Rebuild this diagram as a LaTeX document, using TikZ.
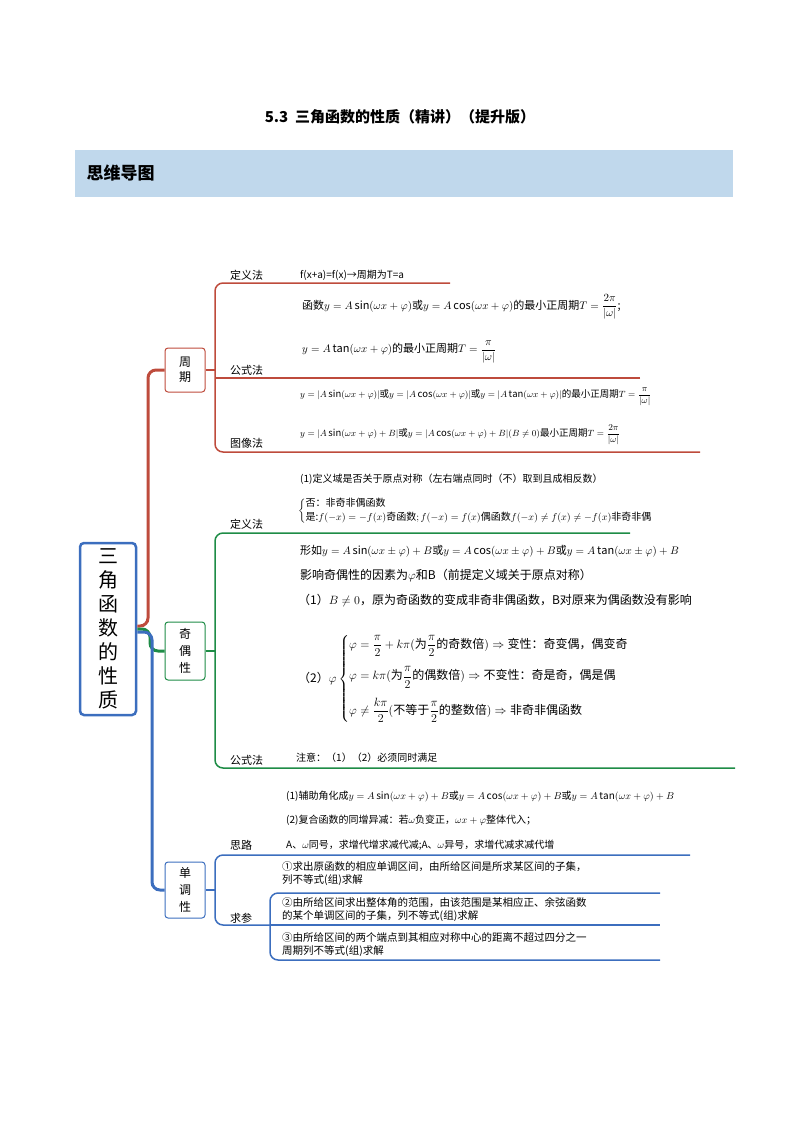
\documentclass[tikz,border=0pt]{standalone}
\usepackage{amsmath}
\usepackage{fontspec}
\setmainfont{Noto Sans CJK SC}
\definecolor{cr}{RGB}{190,75,60}
\definecolor{cg}{RGB}{30,140,70}
\definecolor{cb}{RGB}{60,110,190}
\definecolor{band}{RGB}{192,216,236}
\tikzset{
 lab/.style={anchor=west,font=\fontsize{11}{12}\selectfont,inner sep=0pt},
 txt/.style={anchor=west,font=\fontsize{10}{12}\selectfont,inner sep=0pt},
 sbox/.style={draw,rounded corners=3pt,line width=1pt,minimum width=40pt,align=center,font=\fontsize{12}{15}\selectfont},
 br/.style={line width=1.5pt,rounded corners=8pt},
}
\begin{document}
\begin{tikzpicture}[x=1pt,y=-1pt]
\useasboundingbox (0,0) rectangle (800,1132);
\node[font=\bfseries\fontsize{15}{18}\selectfont] (title) at (400,117) {5.3\ \ 三角函数的性质（精讲）（提升版）};
\fill[band] (75,150) rectangle (733,197);
\node[anchor=west,font=\bfseries\fontsize{17}{20}\selectfont] (hd) at (83,173) {思维导图};
% main box
\node[draw=cb,line width=2.5pt,rounded corners=4pt,minimum width=56pt,minimum height=172pt,align=center,font=\fontsize{20}{24}\selectfont] (main) at (108,629) {三\\角\\函\\数\\的\\性\\质};
\node[sbox,draw=cr,minimum height=44pt] (zq) at (185,370) {周\\期};
\node[sbox,draw=cg,minimum height=58pt,font=\fontsize{12}{17}\selectfont] (jo) at (185,651) {奇\\偶\\性};
\node[sbox,draw=cb,minimum height=56pt,font=\fontsize{12}{17}\selectfont] (dd) at (185,890) {单\\调\\性};
% trunk
\draw[br,cr,line width=3pt] (main.east) ++(0,-3) -- (148,626) -- (148,370) -- (zq.west);
\draw[br,cg,line width=3pt] (main.east) -- (150,629) -- (150,651) -- (jo.west);
\draw[br,cb,line width=3pt] (main.east) ++(0,3) -- (152,632) -- (152,890) -- (dd.west);
% period branch
\draw[br,cr] (450,283) -- (215,283) -- (215,452) -- (700,452);
\draw[cr,line width=1.5pt] (640,378) -- (215,378);
\draw[cr,line width=1.5pt] (zq.east) -- (215,370);
\node[lab] (l1) at (230,275) {定义法};
\node[lab] (l2) at (230,370) {公式法};
\node[lab] (l3) at (230,443) {图像法};
\node[txt] (p1) at (300,275) {f(x+a)=f(x)→周期为T=a};
\node[txt,font=\fontsize{11}{13}\selectfont] (p2) at (302,307) {函数$y=A\sin(\omega x+\varphi)$或$y=A\cos(\omega x+\varphi)$的最小正周期$T=\dfrac{2\pi}{|\omega|}$;};
\node[txt,font=\fontsize{11}{13}\selectfont] (p3) at (302,352) {$y=A\tan(\omega x+\varphi)$的最小正周期$T=\dfrac{\pi}{|\omega|}$};
\node[txt,font=\fontsize{9.5}{11}\selectfont] (p4) at (300,397) {$y=|A\sin(\omega x+\varphi)|$或$y=|A\cos(\omega x+\varphi)|$或$y=|A\tan(\omega x+\varphi)|$的最小正周期$T=\dfrac{\pi}{|\omega|}$};
\node[txt,font=\fontsize{9.5}{11}\selectfont] (p5) at (300,435) {$y=|A\sin(\omega x+\varphi)+B|$或$y=|A\cos(\omega x+\varphi)+B|(B\neq0)$最小正周期$T=\dfrac{2\pi}{|\omega|}$};
% parity branch
\draw[br,cg] (630,533) -- (215,533) -- (215,768) -- (735,768);
\draw[cg,line width=1.5pt] (jo.east) -- (215,651);
\node[lab] (l4) at (230,524) {定义法};
\node[lab] (l5) at (230,760) {公式法};
\node[txt,font=\fontsize{10}{12}\selectfont] (q1) at (300,479) {(1)定义域是否关于原点对称（左右端点同时（不）取到且成相反数）};
\node[txt,font=\fontsize{10}{12}\selectfont] (q2) at (298,511) {$\left\{\begin{array}{@{}l@{}}\text{否：非奇非偶函数}\\[2pt] \text{是:}f(-x)=-f(x)\text{奇函数};f(-x)=f(x)\text{偶函数}f(-x)\neq f(x)\neq-f(x)\text{非奇非偶}\end{array}\right.$};
\node[txt,font=\fontsize{11}{13}\selectfont] (q3) at (300,551) {形如$y=A\sin(\omega x\pm\varphi)+B$或$y=A\cos(\omega x\pm\varphi)+B$或$y=A\tan(\omega x\pm\varphi)+B$};
\node[txt,font=\fontsize{12}{14}\selectfont] (q4) at (300,576) {影响奇偶性的因素为$\varphi$和B（前提定义域关于原点对称）};
\node[txt,font=\fontsize{12}{14}\selectfont] (q5) at (298,601) {（1）$B\neq0$，原为奇函数的变成非奇非偶函数，B对原来为偶函数没有影响};
\node[txt,font=\fontsize{12}{14}\selectfont] (q6) at (298,679) {（2）$\varphi\left\{\begin{array}{@{}l@{}}\varphi=\dfrac{\pi}{2}+k\pi(\text{为}\dfrac{\pi}{2}\text{的奇数倍})\Rightarrow\text{变性：奇变偶，偶变奇}\\[14pt] \varphi=k\pi(\text{为}\dfrac{\pi}{2}\text{的偶数倍})\Rightarrow\text{不变性：奇是奇，偶是偶}\\[14pt] \varphi\neq\dfrac{k\pi}{2}(\text{不等于}\dfrac{\pi}{2}\text{的整数倍})\Rightarrow\text{非奇非偶函数}\end{array}\right.$};
\node[txt] (q7) at (296,758) {注意：（1）（2）必须同时满足};
% monotonic branch
\draw[br,cb] (690,855) -- (215,855) -- (215,925) -- (270,925);
\draw[cb,line width=1.5pt] (dd.east) -- (215,890);
\draw[br,cb] (660,893) -- (270,893) -- (270,960) -- (660,960);
\draw[cb,line width=1.5pt] (270,925) -- (660,925);
\node[lab] (l6) at (230,845) {思路};
\node[lab] (l7) at (230,918) {求参};
\node[txt] (m1) at (286,797) {(1)辅助角化成$y=A\sin(\omega x+\varphi)+B$或$y=A\cos(\omega x+\varphi)+B$或$y=A\tan(\omega x+\varphi)+B$};
\node[txt] (m2) at (286,820) {(2)复合函数的同增异减：若$\omega$负变正，$\omega x+\varphi$整体代入；};
\node[txt] (m3) at (286,845) {A、$\omega$同号，求增代增求减代减;A、$\omega$异号，求增代减求减代增};
\node[txt,align=left,font=\fontsize{10.5}{13}\selectfont] (n1) at (282,874) {①求出原函数的相应单调区间，由所给区间是所求某区间的子集，\\列不等式(组)求解};
\node[txt,align=left,font=\fontsize{10.5}{13}\selectfont] (n2) at (282,910) {②由所给区间求出整体角的范围，由该范围是某相应正、余弦函数\\的某个单调区间的子集，列不等式(组)求解};
\node[txt,align=left,font=\fontsize{10.5}{13}\selectfont] (n3) at (282,945) {③由所给区间的两个端点到其相应对称中心的距离不超过四分之一\\周期列不等式(组)求解};
\end{tikzpicture}
\end{document}
